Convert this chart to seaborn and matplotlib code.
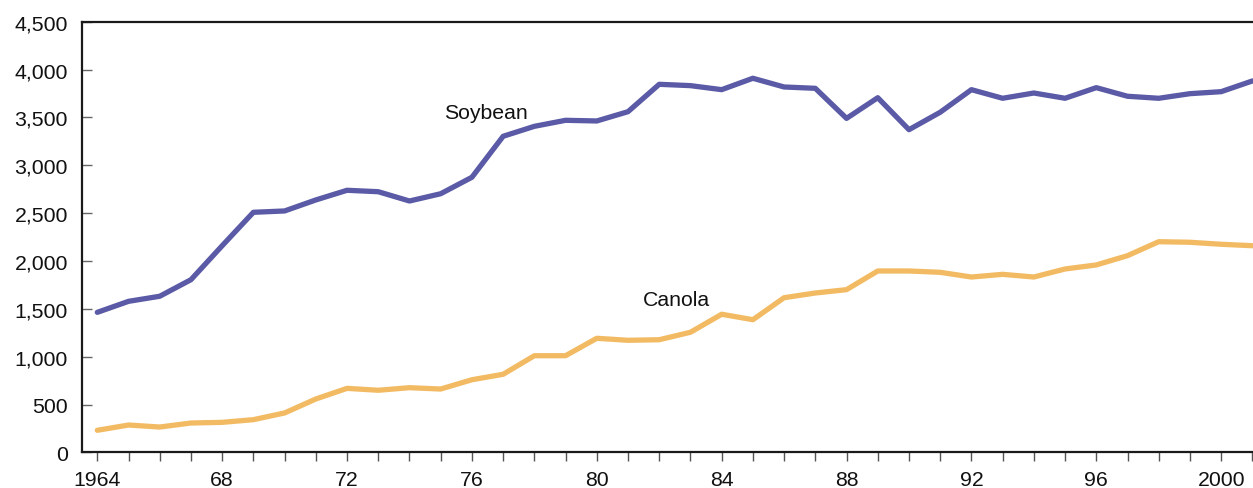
import matplotlib
matplotlib.use("Agg")
import matplotlib.pyplot as plt
import seaborn as sns
import pandas as pd
import numpy as np

years = list(range(1964, 2002))
soybean = [1464, 1579, 1632, 1805, 2160, 2509, 2523, 2638, 2739, 2724,
           2627, 2703, 2875, 3303, 3407, 3470, 3463, 3560, 3846, 3832,
           3790, 3909, 3818, 3804, 3490, 3706, 3372, 3554, 3790, 3700,
           3755, 3700, 3811, 3721, 3700, 3748, 3769, 3881]
canola = [232, 287, 266, 308, 315, 343, 413, 559, 670, 650,
          677, 663, 760, 817, 1011, 1011, 1193, 1172, 1178, 1256,
          1444, 1387, 1617, 1666, 1701, 1896, 1896, 1882, 1833, 1861,
          1833, 1917, 1959, 2056, 2202, 2196, 2175, 2160]
xtick_vals = [1964, 1968, 1972, 1976, 1980, 1984, 1988, 1992, 1996, 2000]
xtick_labels = ["1964", "68", "72", "76", "80", "84", "88", "92", "96", "2000"]
ytick_vals = list(range(0, 4501, 500))

df = pd.DataFrame({
    "year": years * 2,
    "value": soybean + canola,
    "crop": ["Soybean"] * len(years) + ["Canola"] * len(years),
})

sns.set_theme(style="white")
plt.rcParams["font.family"] = ["Liberation Sans", "DejaVu Sans"]

fig = plt.figure(figsize=(12.53, 4.89), dpi=100)
ax = fig.add_axes([0.0652, 0.0726, 0.9348, 0.8810])

palette = {"Soybean": "#5a5aa6", "Canola": "#f2bb63"}
sns.lineplot(data=df, x="year", y="value", hue="crop", palette=palette,
             linewidth=3.8, ax=ax, legend=False)

ax.set_xlim(1963.5, 2001.02)
ax.set_ylim(0, 4500)
ax.set_xticks(years, minor=True)
ax.set_xticks(xtick_vals)
ax.set_xticklabels(xtick_labels)
ax.set_yticks(ytick_vals)
ax.set_yticklabels([f"{v:,}" for v in ytick_vals])
ax.set_xlabel("")
ax.set_ylabel("")

for s in ["left", "bottom", "top"]:
    ax.spines[s].set_visible(True)
    ax.spines[s].set_color("#1a1a1a")
    ax.spines[s].set_linewidth(1.6)
ax.spines["right"].set_visible(False)

ax.tick_params(axis="x", which="both", direction="out", length=6.8, width=1.0,
               color="#555555", bottom=True, labelsize=15.3, pad=5.5, labelcolor="#111111")
ax.tick_params(axis="y", direction="in", length=7.2, width=1.0, color="#666666",
               left=True, labelsize=15.3, pad=10, labelcolor="#111111")

ax.text(1976.45, 3491, "Soybean", fontsize=15.3, ha="center", va="baseline", color="#111111")
ax.text(1982.55, 1541, "Canola", fontsize=15.3, ha="center", va="baseline", color="#111111")

fig.savefig("out.png", dpi=100)
